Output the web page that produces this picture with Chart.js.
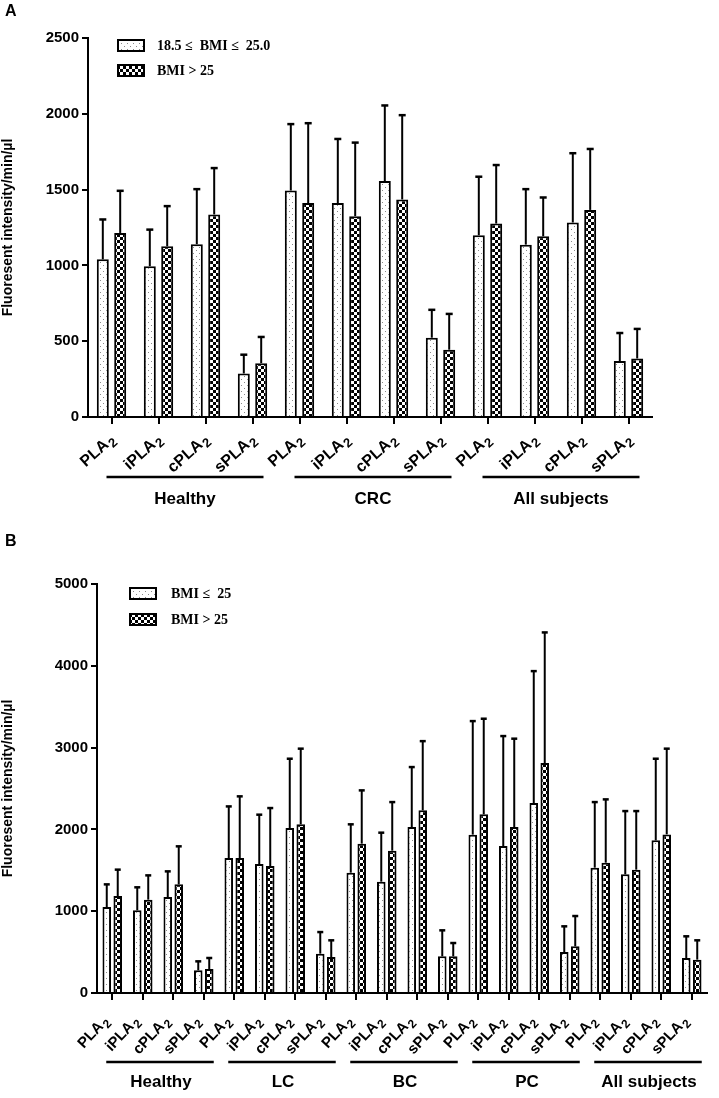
<!DOCTYPE html>
<html>
<head>
<meta charset="utf-8">
<script src="https://cdn.jsdelivr.net/npm/chart.js@4.4.0/dist/chart.umd.min.js"></script>
<style>
  html, body { margin: 0; padding: 0; background: #fff; }
  canvas { position: absolute; left: 0; }
  #chartA { top: 0; }
  #chartB { top: 530px; }
</style>
</head>
<body>
<canvas id="chartA" width="719" height="530"></canvas>
<canvas id="chartB" width="719" height="568"></canvas>
<script>
// enzyme labels repeated in every subject group
const enzymes = ['PLA₂', 'iPLA₂', 'cPLA₂', 'sPLA₂'];

// panel A
const groupsA = ['Healthy', 'CRC', 'All subjects'];
const normalA = [1040, 995, 1140, 287, 1494, 1411, 1556, 523, 1199, 1137, 1283, 369];
const normalSdA = [263, 241, 363, 124, 438, 423, 499, 184, 386, 366, 457, 185];
const overA = [1214, 1126, 1336, 355, 1411, 1325, 1435, 444, 1276, 1192, 1366, 386];
const overSdA = [278, 265, 306, 173, 527, 485, 556, 236, 386, 256, 402, 195];
const yTicksA = [0, 500, 1000, 1500, 2000, 2500];

// panel B
const groupsB = ['Healthy', 'LC', 'BC', 'PC', 'All subjects'];
const normalB = [1051, 1011, 1173, 277, 1650, 1576, 2016, 481, 1471, 1361, 2028, 448, 1936, 1796, 2322, 501, 1532, 1451, 1866, 428];
const normalSdB = [277, 281, 314, 110, 631, 604, 848, 264, 591, 599, 734, 318, 1388, 1345, 1613, 314, 802, 773, 998, 265];
const overB = [1185, 1141, 1328, 293, 1650, 1552, 2062, 440, 1826, 1740, 2233, 448, 2184, 2028, 2811, 571, 1593, 1508, 1939, 408];
const overSdB = [323, 297, 465, 135, 754, 709, 925, 204, 651, 594, 846, 163, 1169, 1081, 1597, 370, 774, 716, 1048, 236];
const yTicksB = [0, 1000, 2000, 3000, 4000, 5000];

const SANS = '"Liberation Sans", Arial, sans-serif';
const SERIF = '"Liberation Serif", "Times New Roman", serif';

function dotPattern() {
  const c = document.createElement('canvas');
  c.width = 6; c.height = 6;
  const g = c.getContext('2d');
  g.fillStyle = '#fff'; g.fillRect(0, 0, 6, 6);
  g.fillStyle = '#8a8a8a';
  g.fillRect(1, 1, 1, 1);
  g.fillRect(4, 4, 1, 1);
  return g.createPattern(c, 'repeat');
}

function checkPattern() {
  const c = document.createElement('canvas');
  c.width = 6; c.height = 6;
  const g = c.getContext('2d');
  g.fillStyle = '#000'; g.fillRect(0, 0, 6, 6);
  g.fillStyle = '#fff';
  g.fillRect(0, 0, 3, 3);
  g.fillRect(3, 3, 3, 3);
  return g.createPattern(c, 'repeat');
}

const errorBars = {
  id: 'errorBars',
  afterDatasetsDraw(chart, args, opts) {
    const ctx = chart.ctx;
    const y = chart.scales.y;
    chart.data.datasets.forEach((ds, i) => {
      chart.getDatasetMeta(i).data.forEach((bar, j) => {
        const top = y.getPixelForValue(ds.data[j] + ds.sd[j]);
        ctx.save();
        ctx.strokeStyle = '#000';
        ctx.lineWidth = 2;
        ctx.beginPath();
        ctx.moveTo(bar.x, bar.y);
        ctx.lineTo(bar.x, top);
        ctx.stroke();
        ctx.lineWidth = 2.5;
        ctx.beginPath();
        ctx.moveTo(bar.x - opts.cap, top);
        ctx.lineTo(bar.x + opts.cap, top);
        ctx.stroke();
        ctx.restore();
      });
    });
  }
};

// rotated enzyme labels with a real subscript, plus the group rules and names
const categoryAxis = {
  id: 'categoryAxis',
  afterDraw(chart, args, opts) {
    const ctx = chart.ctx;
    const x = chart.scales.x;
    const base = chart.chartArea.bottom;
    ctx.save();
    ctx.fillStyle = '#000';
    chart.data.labels.forEach((lab, i) => {
      const px = x.getPixelForValue(i);
      ctx.save();
      ctx.translate(px + opts.dx, base + opts.dy);
      ctx.rotate(-opts.angle * Math.PI / 180);
      ctx.textBaseline = 'alphabetic';
      ctx.textAlign = 'right';
      ctx.font = 'bold ' + opts.size + 'px ' + SANS;
      ctx.fillText(lab.replace('₂', ''), 0, 0);
      ctx.textAlign = 'left';
      ctx.font = 'bold ' + Math.round(opts.size * 0.8) + 'px ' + SANS;
      ctx.fillText('2', 1, 4);
      ctx.restore();
    });
    opts.groups.forEach((name, g) => {
      const a = x.getPixelForValue(g * 4);
      const b = x.getPixelForValue(g * 4 + 3);
      ctx.strokeStyle = '#000';
      ctx.lineWidth = 2.5;
      ctx.beginPath();
      ctx.moveTo(a - opts.padL, opts.lineY);
      ctx.lineTo(b + opts.padR, opts.lineY);
      ctx.stroke();
      ctx.font = 'bold 17px ' + SANS;
      ctx.textAlign = 'center';
      ctx.textBaseline = 'middle';
      ctx.fillText(name, (a + b) / 2 + 3, opts.textY);
    });
    ctx.restore();
  }
};

const panelLegend = {
  id: 'panelLegend',
  afterDraw(chart, args, opts) {
    const ctx = chart.ctx;
    ctx.save();
    ctx.fillStyle = '#000';
    ctx.font = 'bold 16px ' + SANS;
    ctx.textBaseline = 'middle';
    ctx.fillText(opts.letter, 5, opts.letterY);
    chart.data.datasets.forEach((ds, i) => {
      const bx = opts.x, by = opts.y + i * opts.gap;
      ctx.fillStyle = ds.backgroundColor;
      ctx.fillRect(bx, by, 26, 11);
      ctx.strokeStyle = '#000';
      ctx.lineWidth = 2;
      ctx.strokeRect(bx, by, 26, 11);
      ctx.fillStyle = '#000';
      ctx.font = 'bold 14px ' + SERIF;
      ctx.textAlign = 'left';
      ctx.fillText(ds.label, bx + opts.textDx, by + 6);
    });
    ctx.restore();
  }
};

function makeChart(id, p) {
  const labels = p.groups.flatMap(() => enzymes);
  return new Chart(document.getElementById(id), {
    type: 'bar',
    data: {
      labels,
      datasets: [
        {
          label: p.names[0],
          data: p.normal,
          sd: p.normalSd,
          backgroundColor: dotPattern(),
          borderColor: '#000',
          borderWidth: 2,
          categoryPercentage: p.cat,
          barPercentage: p.bar,
        },
        {
          label: p.names[1],
          data: p.over,
          sd: p.overSd,
          backgroundColor: checkPattern(),
          borderColor: '#000',
          borderWidth: 2,
          categoryPercentage: p.cat,
          barPercentage: p.bar,
        },
      ],
    },
    options: {
      responsive: false,
      animation: false,
      layout: { padding: { top: p.top, right: p.right, left: 0, bottom: 0 } },
      plugins: {
        legend: { display: false },
        tooltip: { enabled: false },
        errorBars: { cap: p.cap },
        categoryAxis: p.axis,
        panelLegend: { letter: p.letter, letterY: p.letterY, x: p.legX, y: p.legY, gap: p.legGap, textDx: p.legDx },
      },
      scales: {
        x: {
          grid: { offset: false, drawOnChartArea: false, color: '#000', lineWidth: 2, tickLength: 7 },
          border: { color: '#000', width: 2 },
          ticks: { display: false },
          afterFit: s => { s.height = p.xHeight; },
        },
        y: {
          min: p.yTicks[0],
          max: p.yTicks[p.yTicks.length - 1],
          afterBuildTicks: s => { s.ticks = p.yTicks.map(v => ({ value: v })); },
          grid: { drawOnChartArea: false, color: '#000', lineWidth: 2, tickLength: 6 },
          border: { color: '#000', width: 2 },
          ticks: {
            padding: 3, color: '#000', font: { family: SANS, size: 15, weight: 'bold' },
            callback: v => String(v),
          },
          title: {
            display: true, text: 'Fluoresent intensity/min/µl', color: '#000', padding: 0,
            font: { family: SANS, size: 14, weight: 'bold' },
          },
          afterFit: s => { s.width = p.yWidth; },
        },
      },
    },
    plugins: [errorBars, categoryAxis, panelLegend],
  });
}

makeChart('chartA', {
  groups: groupsA, normal: normalA, normalSd: normalSdA, over: overA, overSd: overSdA,
  yTicks: yTicksA, names: ['18.5 ≤  BMI ≤  25.0', 'BMI > 25'],
  cat: 0.74, bar: 0.69, cap: 3.5,
  top: 38, right: 67, yWidth: 88, xHeight: 113,
  axis: { groups: groupsA, lineY: 477, textY: 499, padL: 5, padR: 11, dx: -2, dy: 29, angle: 42, size: 16 },
  letter: 'A', letterY: 12, legX: 118, legY: 40, legGap: 25, legDx: 39,
});

makeChart('chartB', {
  groups: groupsB, normal: normalB, normalSd: normalSdB, over: overB, overSd: overSdB,
  yTicks: yTicksB, names: ['BMI ≤  25', 'BMI > 25'],
  cat: 0.72, bar: 0.78, cap: 3,
  top: 54, right: 12, yWidth: 97, xHeight: 105,
  axis: { groups: groupsB, lineY: 532, textY: 552, padL: 6, padR: 10, dx: -8, dy: 34, angle: 47, size: 15 },
  letter: 'B', letterY: 12, legX: 130, legY: 58, legGap: 26, legDx: 41,
});
</script>
</body>
</html>
